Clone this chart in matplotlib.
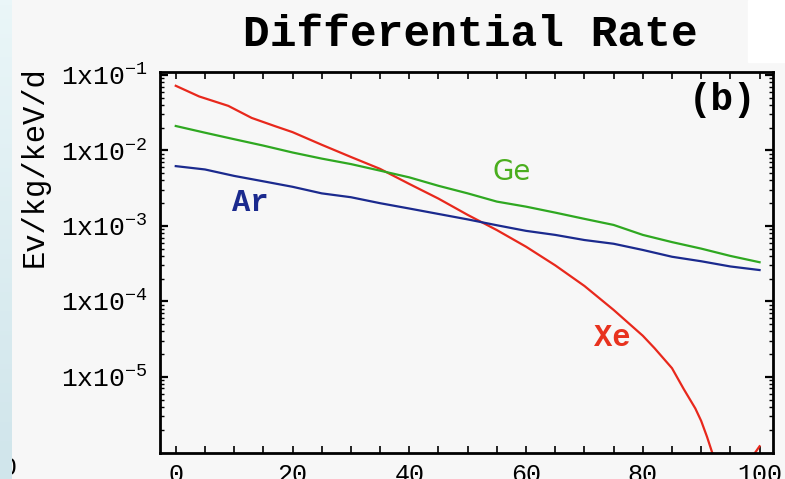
import matplotlib.pyplot as plt
import numpy as np
from matplotlib.ticker import FixedLocator, LogLocator, NullFormatter

plt.rcParams['mathtext.fontset'] = 'custom'
plt.rcParams['mathtext.rm'] = 'Liberation Mono'
plt.rcParams['mathtext.it'] = 'Liberation Mono'

# recoil energy (keV)
energia = [0, 5, 10, 15, 20, 25, 30, 35, 40, 45, 50, 55, 60, 65, 70, 75, 80, 85, 90, 95, 100]

ge = [0.0211, 0.0172, 0.0141, 0.0116, 0.0094, 0.0078, 0.0066, 0.0054, 0.0044, 0.0034,
      0.0027, 0.0021, 0.0018, 0.0015, 0.00124, 0.00103, 0.00076, 0.00061, 0.00050,
      0.00040, 0.00033]

ar = [0.0062, 0.0056, 0.0046, 0.0039, 0.0033, 0.0027, 0.0024, 0.0020, 0.0017, 0.00144,
      0.00122, 0.00102, 0.00086, 0.00076, 0.00065, 0.00058, 0.00048, 0.00039, 0.00034,
      0.00029, 0.00026]

# Xe: la curva scende sotto l'asse vicino a 92 keV e risale a 100
energia_xe = [0, 4, 9, 13, 17, 20, 25, 30, 35, 40, 45, 50, 55, 60, 65, 70, 75, 80, 82,
              85, 87, 89, 90, 91, 92, 93, 95, 97, 98, 99, 100]
xe = [0.072, 0.052, 0.039, 0.027, 0.021, 0.0175, 0.0119, 0.0082, 0.0057, 0.0036, 0.0023,
      0.0014, 0.00088, 0.00053, 0.00030, 0.00016, 7.7e-5, 3.5e-5, 2.4e-5,
      1.3e-5, 6.9e-6, 3.8e-6, 2.6e-6, 1.6e-6, 9.3e-7, 4e-7, 5e-8, 1e-7, 4e-7, 9.3e-7, 1.2e-6]

y_ticks = [1e-1, 1e-2, 1e-3, 1e-4, 1e-5]
y_labels = [r'$\mathrm{1x10}^{-1}$', r'$\mathrm{1x10}^{-2}$', r'$\mathrm{1x10}^{-3}$',
            r'$\mathrm{1x10}^{-4}$', r'$\mathrm{1x10}^{-5}$']
x_ticks = [0, 20, 40, 60, 80, 100]

mono = 'Liberation Mono'
sfondo = '#f7f7f7'


def run():
    fig = plt.figure(figsize=(7.85, 4.79), dpi=100, facecolor=sfondo)
    ax = fig.add_axes([160 / 785, 26 / 479, 613 / 785, 381 / 479])
    ax.set_facecolor(sfondo)

    ax.plot(energia_xe, xe, color='#e8281c', lw=1.6)
    ax.plot(energia, ge, color='#2fa821', lw=1.6)
    ax.plot(energia, ar, color='#1b2a8e', lw=1.6)

    ax.set_yscale('log')
    ax.set_xlim(-2.7, 102.3)
    ax.set_ylim(10 ** -6.01, 10 ** -0.96)

    ax.yaxis.set_major_locator(FixedLocator(y_ticks))
    ax.set_yticklabels(y_labels)
    ax.yaxis.set_minor_locator(LogLocator(base=10, subs=np.arange(2, 10), numticks=20))
    ax.yaxis.set_minor_formatter(NullFormatter())
    ax.set_xticks(x_ticks)
    ax.set_xticks(np.arange(0, 101, 5), minor=True)

    ax.tick_params(which='both', direction='in', top=True, right=True, color='black')
    ax.tick_params(axis='x', which='both', length=5, width=1.2)
    ax.tick_params(axis='y', which='major', length=6, width=1.6)
    ax.tick_params(axis='y', which='minor', length=3, width=1.0)
    ax.tick_params(axis='y', labelsize=19, pad=9)
    ax.tick_params(axis='x', labelsize=18, pad=7)
    for lab in ax.get_xticklabels():
        lab.set_fontfamily(mono)
    for sp in ax.spines.values():
        sp.set_linewidth(2)

    ax.text(12.7, 2.02e-3, 'Ar', color='#1b2a8e', fontsize=22, fontfamily=mono,
            fontweight='bold', ha='center', va='center')
    ax.text(57.6, 5.19e-3, 'Ge', color='#4aae1e', fontsize=20, fontfamily='DejaVu Sans',
            ha='center', va='center')
    ax.text(74.8, 3.29e-5, 'Xe', color='#e8321e', fontsize=22, fontfamily=mono,
            fontweight='bold', ha='center', va='center')
    ax.text(0.917, 0.9265, '(b)', transform=ax.transAxes, fontsize=27, fontfamily=mono,
            fontweight='bold', ha='center', va='center')

    fig.text(470 / 785, 1 - 35 / 479, 'Differential Rate', fontsize=32, fontfamily=mono,
             fontweight='bold', ha='center', va='center')
    fig.text(35 / 785, 1 - 167 / 479, 'Ev/kg/keV/d', fontsize=22, fontfamily=mono,
             rotation=90, ha='center', va='center')
    # pezzo del pannello (a) tagliato a sinistra
    fig.text(9 / 785, 1 - 468 / 479, '0', fontsize=18, fontfamily=mono,
             ha='center', va='center')

    # angolo bianco in alto a destra
    fig.patches.append(plt.Rectangle((748 / 785, 1 - 62 / 479), 37 / 785, 62 / 479,
                                     transform=fig.transFigure, color='white', zorder=0))

    # striscia azzurra a sinistra
    striscia = fig.add_axes([0, 0, 12 / 785, 1], zorder=5)
    grad = np.linspace(0, 1, 100).reshape(-1, 1)
    striscia.imshow(grad, aspect='auto', cmap=plt.matplotlib.colors.LinearSegmentedColormap.from_list(
        'bg', ['#eaf6f8', '#d0e5eb']), extent=[0, 1, 0, 1])
    striscia.set_axis_off()

    fig.savefig('out.png', dpi=100, facecolor=sfondo)
    plt.close()


if __name__ == '__main__':
    run()
